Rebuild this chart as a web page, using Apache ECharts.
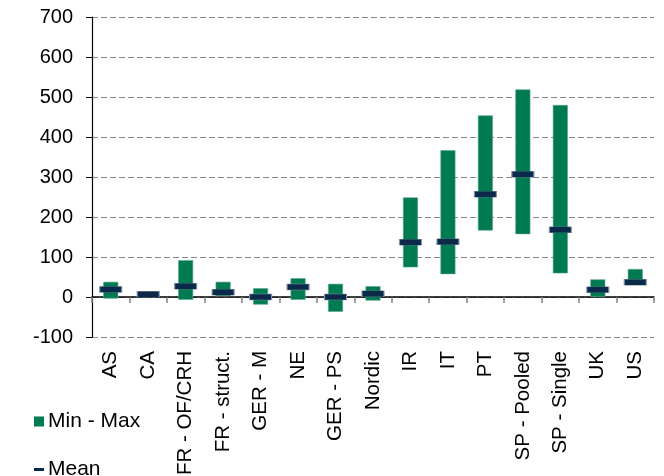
<!DOCTYPE html>
<html>
<head>
<meta charset="utf-8">
<script src="https://cdn.jsdelivr.net/npm/echarts@6/dist/echarts.min.js"></script>
<style>html,body{margin:0;padding:0;background:#fff;}#c{width:664px;height:476px;}</style>
</head>
<body>
<div id="c"></div>
<script>
const categories = ['AS','CA','FR - OF/CRH','FR - struct.','GER - M','NE','GER - PS','Nordic','IR','IT','PT','SP - Pooled','SP - Single','UK','US'];
const minVals  = [-4, 2, -7, 2, -19, -7, -37, -9, 74, 57, 166, 157, 59, 0, 43];
const maxVals  = [38, 12, 92, 38, 22, 47, 33, 27, 249, 367, 454, 519, 480, 44, 70];
const meanVals = [19, 7, 27, 12, 0, 25, 0, 8, 137, 138, 257, 307, 168, 18, 37];
const yTicks = {min: -100, max: 700, interval: 100};

const GREEN = '#007A53';
const NAVY = '#0B2948';
const FONT = 'Liberation Sans, Arial, sans-serif';

const rangeVals = maxVals.map((v, i) => v - minVals[i]);

const chart = echarts.init(document.getElementById('c'), null, {renderer: 'canvas'});
chart.setOption({
  animation: false,
  backgroundColor: '#fff',
  grid: {left: 92, right: 10, top: 17, bottom: 139, containLabel: false, outerBoundsMode: 'none'},
  legend: [
    {
      data: [{name: 'Min - Max', icon: 'rect', itemStyle: {color: GREEN, borderWidth: 0}}],
      left: 34, top: 411, orient: 'vertical', padding: 0,
      itemWidth: 10, itemHeight: 10,
      textStyle: {fontFamily: FONT, fontSize: 21, color: '#000', padding: [0, 0, 0, -1]}
    },
    {
      data: [{name: 'Mean', icon: 'rect', itemStyle: {color: NAVY, borderWidth: 0}}],
      left: 34, top: 459, orient: 'vertical', padding: 0,
      itemWidth: 10, itemHeight: 3,
      textStyle: {fontFamily: FONT, fontSize: 21, color: '#000', padding: [0, 0, 0, -1]}
    }
  ],
  xAxis: [
    {
      type: 'category', data: categories,
      axisLine: {show: false, onZero: false},
      axisTick: {show: false},
      axisLabel: {rotate: 90, fontFamily: FONT, fontSize: 20.5, color: '#000', margin: 14, interval: 0}
    },
    {
      type: 'category', data: categories, position: 'bottom', offset: -40,
      axisLine: {show: true, onZero: false, lineStyle: {color: '#000', width: 1.5}},
      axisTick: {show: true, inside: false, length: 6, interval: 0, lineStyle: {color: '#808080', width: 1.5}},
      axisLabel: {show: false}
    }
  ],
  yAxis: {
    type: 'value', min: yTicks.min, max: yTicks.max, interval: yTicks.interval,
    axisLine: {show: true, lineStyle: {color: '#000', width: 1.2}},
    axisTick: {show: true, length: 6, lineStyle: {color: '#000'}},
    axisLabel: {fontFamily: FONT, fontSize: 20, color: '#000', margin: 19},
    splitLine: {show: true, lineStyle: {color: '#888', type: [6, 3], width: 1}}
  },
  series: [
    {
      name: 'base', type: 'bar', stack: 'r', stackStrategy: 'all',
      data: minVals, barWidth: 15, silent: true,
      itemStyle: {color: 'rgba(0,0,0,0)'}
    },
    {
      name: 'Min - Max', type: 'bar', stack: 'r', stackStrategy: 'all',
      data: rangeVals, barWidth: 15,
      itemStyle: {color: GREEN, borderColor: '#5fa88a', borderWidth: 0.6}
    },
    {
      name: 'Mean', type: 'scatter', data: meanVals,
      symbol: 'rect', symbolSize: [22, 6], z: 5,
      itemStyle: {color: NAVY, borderColor: '#7f93a8', borderWidth: 0.6, opacity: 1}
    }
  ]
});
</script>
</body>
</html>
